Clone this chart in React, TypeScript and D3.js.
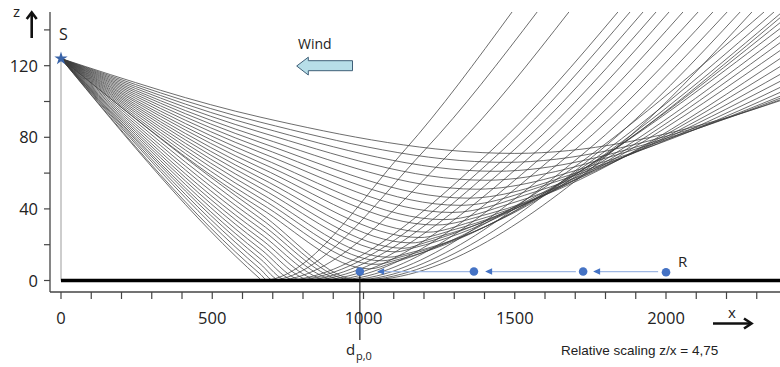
import React from 'react';
import * as d3 from 'd3';

const W = 780;
const H = 367;

// ---- axis ticks ----
const xTickValues = [0,100,200,300,400,500,600,700,800,900,1000,1100,1200,1300,1400,1500,1600,1700,1800,1900,2000,2100,2200,2300];
const xTickLabels = [0, 500, 1000, 1500, 2000];
const zTickValues = [0, 20, 40, 60, 80, 100, 120, 140];
const zTickLabels = [0, 40, 80, 120];

// ---- source ----
const sourceX = 0;
const sourceZ = 124;

// ---- rays: height of every ray at x = 658 (descending part) ----
const descentX = 658;
const rayDescentZ = [91.3, 88.5, 85.7, 82.9, 80.0, 77.2, 74.4, 71.6, 68.7, 65.9, 63.1, 60.2, 57.4, 54.6, 51.8, 48.9, 46.1, 43.3, 40.5,
  37.6, 34.8, 32.0, 29.2, 26.3, 23.5, 20.7, 17.8, 15.0, 12.2, 9.4, 6.5, 3.7, 0.9];

// rays turning above the ground (refracted upward)
const turnMinX = [1500, 1468, 1435, 1405, 1375, 1345, 1319, 1293, 1266, 1240, 1213, 1187, 1160, 1134, 1107, 1084, 1061, 1041, 1021];
const turnMinZ = [71, 66, 61, 56, 51, 46, 42, 38, 34, 31, 27, 24, 21, 18, 16, 13, 11, 9, 6.5];
const turnTanX = [2212, 2146, 2033, 1931, 1815, 1726, 1643, 1567, 1488, 1415, 1355, 1303, 1250, 1203, 1167, 1157, 1134, 1114, 1094];
const turnTanZ = [91.5, 87.7, 81.1, 75.0, 67.3, 61.3, 55.6, 49.5, 43.1, 37.3, 32.7, 28.6, 24.6, 21.1, 18.3, 15.6, 13.7, 11.7, 9.8];
const turnExitX = [2380, 2380, 2380, 2380, 2380, 2380, 2380, 2380, 2380, 2380, 2380, 2380, 2380, 2380, 2380, 2380, 2380, 2357, 2324];
const turnExitZ = [100.6, 101.1, 102, 103.1, 105.3, 108.1, 111.5, 115.4, 119.8, 124.3, 128.8, 133.2, 137.2, 141.1, 144.4, 147.2, 149.4, 150, 150];

// rays reflected at the ground
const reflGroundX = [992, 972, 949, 922, 893, 863, 833, 803, 777, 750, 727, 704, 684, 664];
const reflMidZ = 73;
const reflMidX = [1828, 1785, 1742, 1699, 1656, 1617, 1577, 1537, 1498, 1461, 1425, 1296, 1203, 1137];
const reflTopZ = 150;
const reflTopX = [2284, 2245, 2202, 2155, 2106, 2056, 2010, 1967, 1924, 1881, 1841, 1679, 1574, 1491];

// ---- receivers ----
const dotX = [988, 1365, 1726, 2000];
const dotZ = [5, 5, 5, 4.6];
const arrowFromX = [1974, 1702, 1352];
const arrowToX = [1759, 1402, 1045];
const arrowZ = 5;

const FONT = "'Open Sans', 'DejaVu Sans', sans-serif";

export default function App() {
  const xScale = d3.scaleLinear().domain([0, 2000]).range([61, 666]);
  const zScale = d3.scaleLinear().domain([0, 150]).range([280.5, 12]);

  const line = d3.line<[number, number]>()
    .x(d => xScale(d[0]))
    .y(d => zScale(d[1]))
    .curve(d3.curveMonotoneX);

  const rays: [number, number][][] = [];
  turnMinX.forEach((mx, k) => {
    rays.push([
      [sourceX, sourceZ],
      [descentX, rayDescentZ[k]],
      [mx, turnMinZ[k]],
      [turnTanX[k], turnTanZ[k]],
      [turnExitX[k], turnExitZ[k]],
    ]);
  });
  reflGroundX.forEach((gx, j) => {
    const k = turnMinX.length + j;
    rays.push([
      [sourceX, sourceZ],
      [descentX, rayDescentZ[k]],
      [gx, 0],
      [reflMidX[j], reflMidZ],
      [reflTopX[j], reflTopZ],
    ]);
  });

  const axisX = 50;
  const axisY = 292;
  const star = d3.symbol().type(d3.symbolStar).size(55)();

  return (
    <svg width={W} height={H} style={{ position: 'absolute', left: 0, top: 0, background: '#fff' }}>
      <defs>
        <clipPath id="plotclip">
          <rect x={axisX} y={12} width={W - axisX} height={axisY - 12} />
        </clipPath>
      </defs>

      {/* axes */}
      <line x1={axisX} y1={12} x2={axisX} y2={axisY} stroke="#444" strokeWidth={1.3} />
      <line x1={axisX} y1={axisY} x2={W} y2={axisY} stroke="#444" strokeWidth={1.3} />
      {zTickValues.map(v => (
        <line key={'zt' + v} x1={axisX - 6} x2={axisX} y1={zScale(v)} y2={zScale(v)} stroke="#444" strokeWidth={1.2} />
      ))}
      {zTickLabels.map(v => (
        <text key={'zl' + v} x={38} y={zScale(v) + 6} textAnchor="end" fontFamily={FONT} fontSize={16.5} fill="#222">{v}</text>
      ))}
      {xTickValues.map(v => (
        <line key={'xt' + v} x1={xScale(v)} x2={xScale(v)} y1={axisY} y2={axisY + 7} stroke="#444" strokeWidth={1.2} />
      ))}
      {xTickLabels.map(v => (
        <text key={'xl' + v} x={xScale(v)} y={324} textAnchor="middle" fontFamily={FONT} fontSize={16.5} fill="#222">{v}</text>
      ))}

      {/* vertical line under the source */}
      <line x1={xScale(sourceX)} x2={xScale(sourceX)} y1={zScale(sourceZ)} y2={zScale(0)} stroke="#bdbdbd" strokeWidth={1.5} />

      {/* rays */}
      <g clipPath="url(#plotclip)">
        {rays.map((r, i) => (
          <path key={'ray' + i} d={line(r) || ''} fill="none" stroke="#3c3c3c" strokeWidth={0.75} />
        ))}
      </g>

      {/* ground */}
      <line x1={xScale(0)} x2={W} y1={zScale(0)} y2={zScale(0)} stroke="#000" strokeWidth={3.6} />

      {/* source */}
      <path d={star || ''} transform={`translate(${xScale(sourceX)},${zScale(sourceZ)})`} fill="#3a64a8" />
      <text x={59} y={40} fontFamily={FONT} fontSize={16} fill="#222">S</text>

      {/* d_p,0 marker line */}
      <line x1={xScale(dotX[0])} x2={xScale(dotX[0])} y1={zScale(dotZ[0])} y2={340} stroke="#111" strokeWidth={1.1} />
      <text x={346} y={355} fontFamily={FONT} fontSize={15} fill="#222">d</text>
      <text x={356} y={360} fontFamily={FONT} fontSize={11} fill="#222">p,0</text>

      {/* receiver arrows */}
      {arrowFromX.map((fx, i) => {
        const x1 = xScale(fx), x2 = xScale(arrowToX[i]), y = zScale(arrowZ);
        return (
          <g key={'arr' + i}>
            <line x1={x1} x2={x2 + 5} y1={y} y2={y} stroke="#9fb8e4" strokeWidth={1.3} />
            <path d={`M${x2},${y} L${x2 + 7},${y - 3.2} L${x2 + 7},${y + 3.2} Z`} fill="#4472c4" />
          </g>
        );
      })}
      {dotX.map((dx, i) => (
        <circle key={'dot' + i} cx={xScale(dx)} cy={zScale(dotZ[i])} r={4.3} fill="#4472c4" />
      ))}
      <text x={678} y={267} fontFamily={FONT} fontSize={15} fill="#222">R</text>

      {/* wind */}
      <text x={298} y={48.5} fontFamily={FONT} fontSize={14} fill="#222">Wind</text>
      <path d="M296.7,66 L308.3,57.2 L308.3,60.7 L352.5,60.7 L352.5,70.7 L308.3,70.7 L308.3,75 Z" fill="#b7dee8" stroke="#3f5f78" strokeWidth={1} />

      {/* z axis name */}
      <text x={13} y={17} fontFamily={FONT} fontSize={15} fill="#222">z</text>
      <line x1={31.7} x2={31.7} y1={38} y2={13} stroke="#111" strokeWidth={2.6} />
      <polyline points="26.7,19 31.7,12.5 36.7,19" fill="none" stroke="#111" strokeWidth={2.6} />

      {/* x axis name */}
      <text x={728} y={318} fontFamily={FONT} fontSize={15} fill="#222">x</text>
      <line x1={713} x2={751} y1={323.5} y2={323.5} stroke="#111" strokeWidth={2.6} />
      <polyline points="744,318.5 751.5,323.5 744,328.5" fill="none" stroke="#111" strokeWidth={2.6} />

      <text x={561} y={354.5} fontFamily="'Liberation Sans', Arial, sans-serif" fontSize={13.5} fill="#222">Relative scaling z/x = 4,75</text>
    </svg>
  );
}
